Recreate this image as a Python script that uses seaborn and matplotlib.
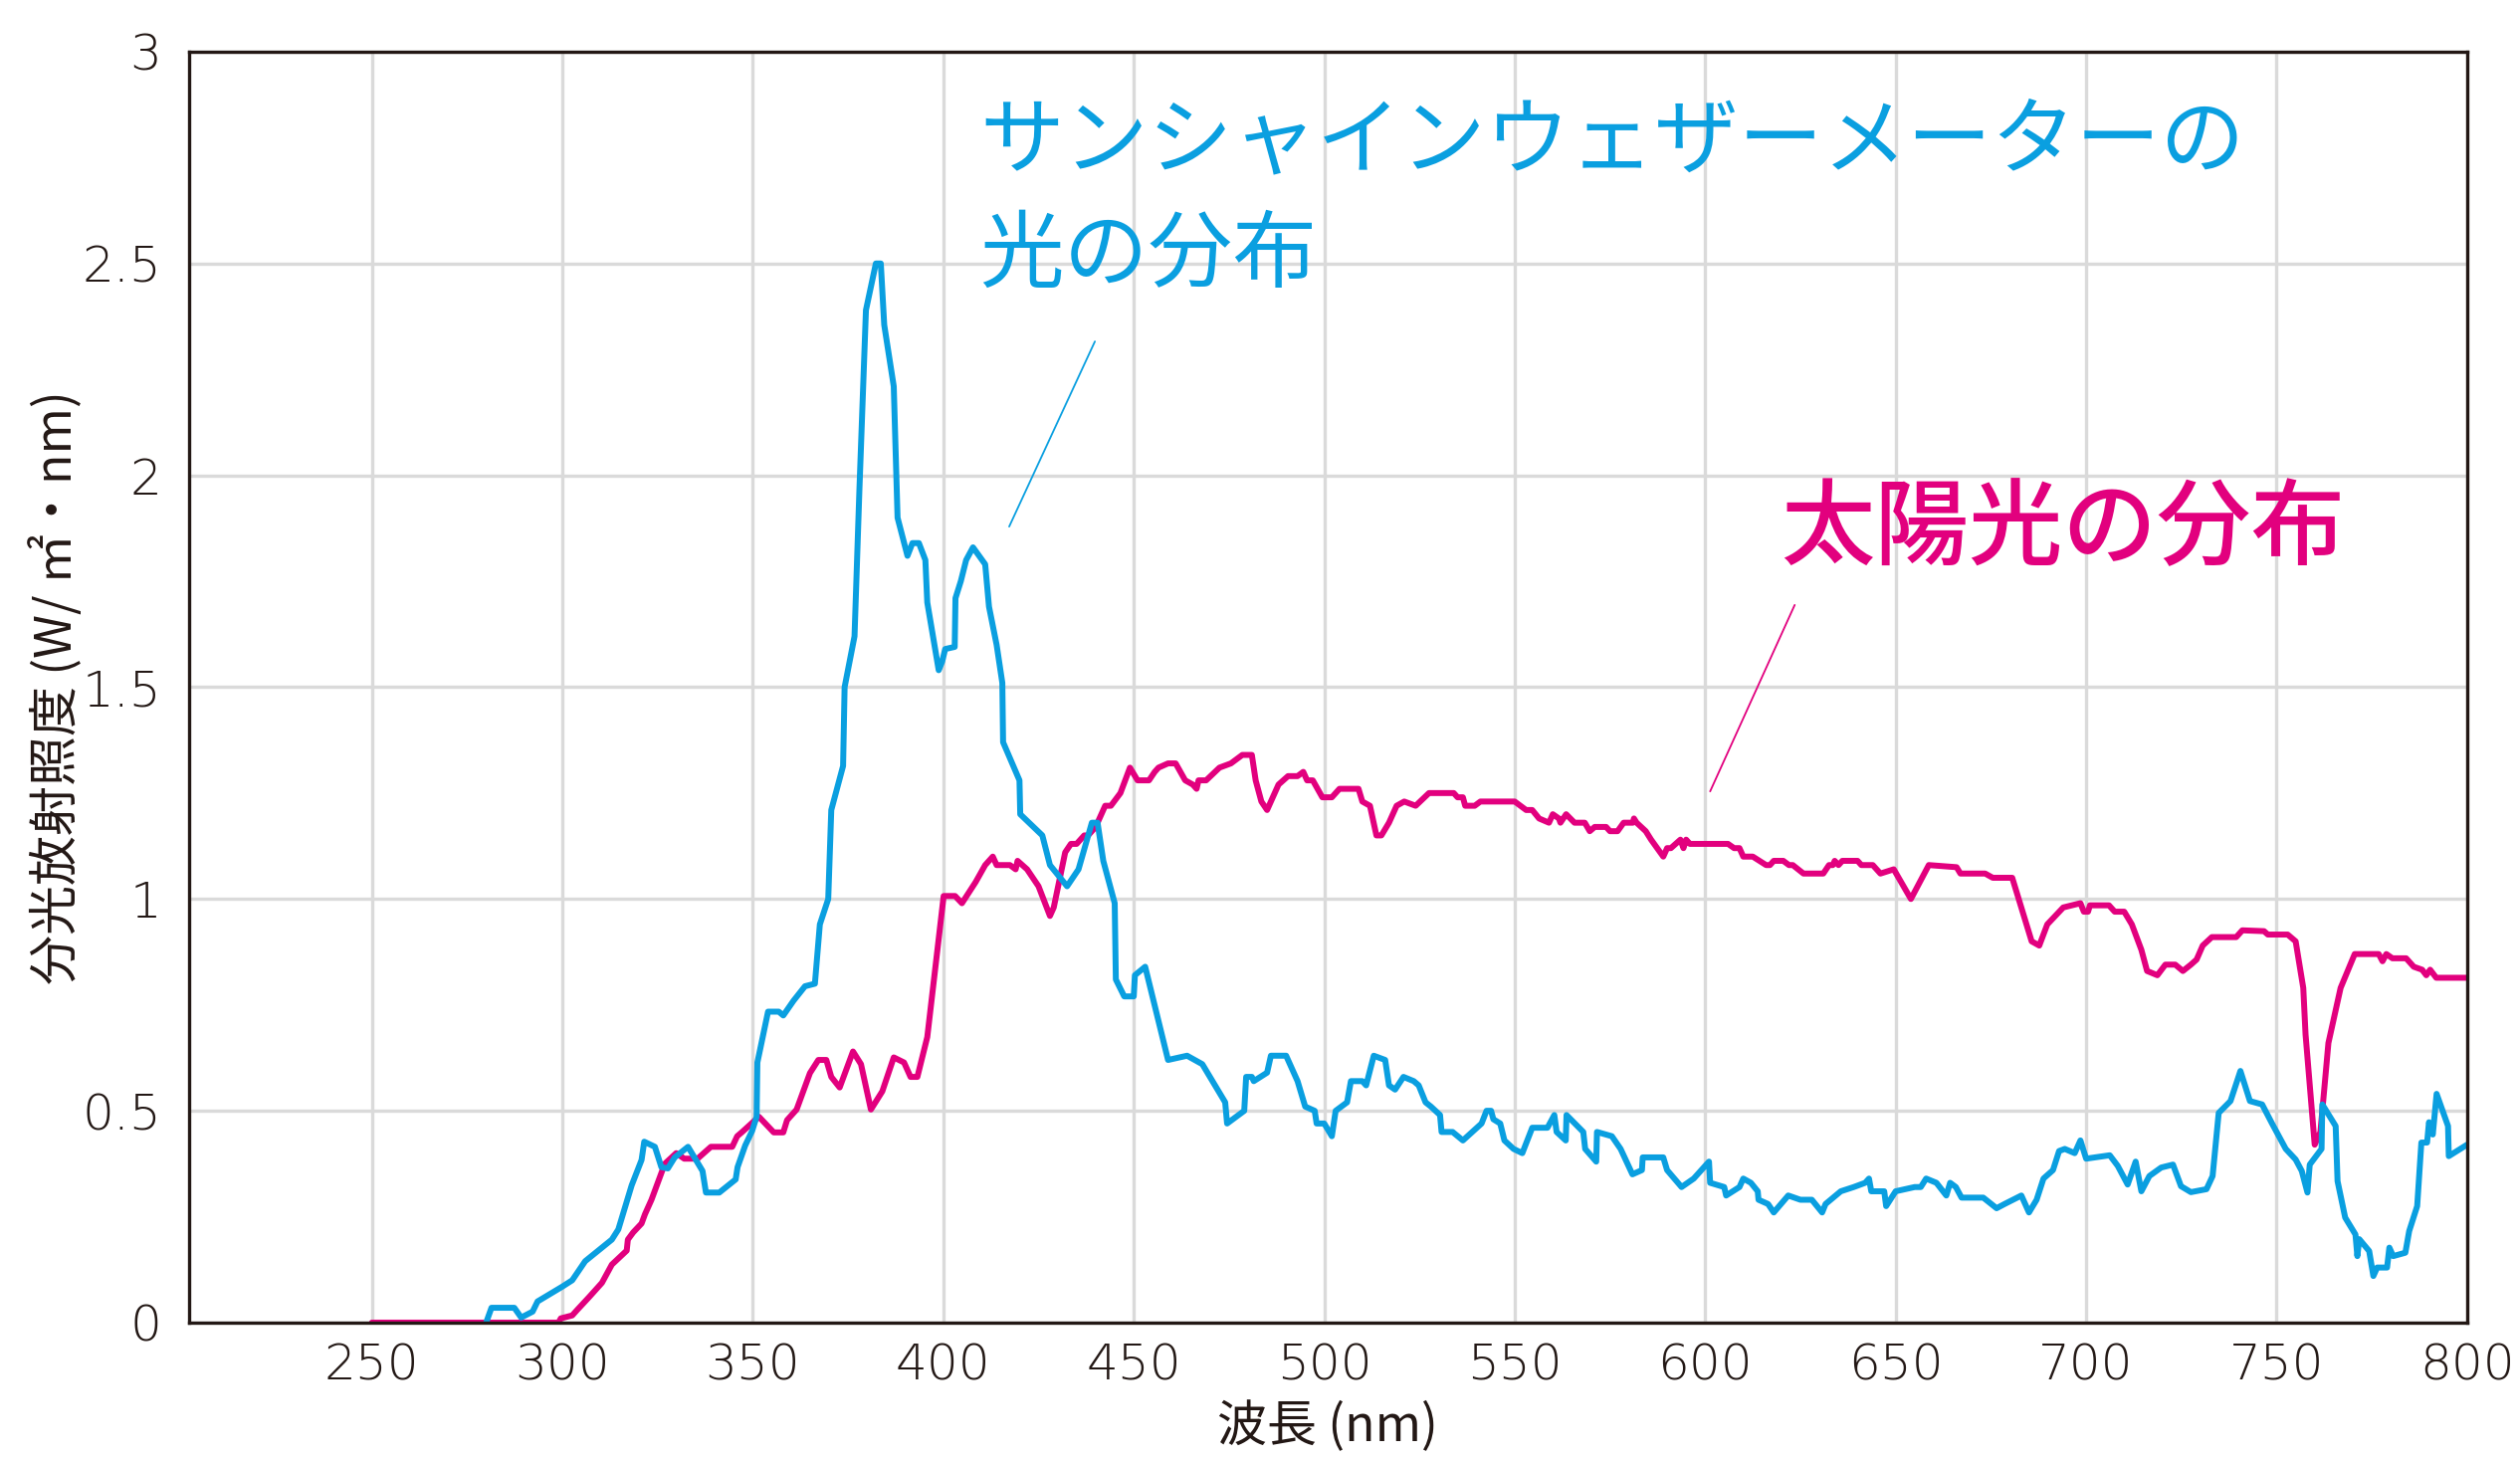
import numpy as np
import pandas as pd
import seaborn as sns
import matplotlib.pyplot as plt

# sunshine weather meter spectrum (blue)
meter_nm = [280, 281.4, 287.4, 289.2, 292.2, 293.5, 300, 302.6, 306, 313, 314.7, 318.2, 320.8, 321.5,
            324.3, 326, 327.7, 329.5, 333, 336.8, 337.7, 341.2, 345.5, 346, 348, 349.8, 351, 351.2,
            354, 356.8, 358, 360.7, 363.7, 366.3, 367.6, 369.8, 370.6, 373.7, 374.1, 376.7, 378,
            379.7, 382.3, 383.6, 384.5, 387, 388, 390.6, 391.9, 393.6, 395.3, 395.8, 398.8, 399.7,
            400.5, 403, 403.2, 404.6, 406, 407.8, 411, 412, 414, 415.5, 415.7, 420, 420.2, 426, 428,
            432.5, 435.5, 439, 440.5, 442, 445, 445.3, 447.5, 450, 450.3, 453, 459, 464, 468, 474,
            474.5, 479, 479.5, 481, 481.5, 485, 486, 490, 493, 495, 497.5, 498, 500, 502, 503, 506,
            507, 510, 511, 513, 516, 517, 518.6, 520.8, 523.5, 524.8, 526.6, 528, 530.4, 530.8,
            533.7, 536.4, 541.3, 542.6, 543.8, 544.4, 546.2, 547.3, 549.7, 552, 554.6, 558.6, 560.4,
            561, 563.4, 563.6, 568, 568.5, 571.4, 571.6, 575.5, 577.8, 580.9, 583.4, 583.6, 589, 590,
            593.8, 597, 601, 601.3, 605, 605.5, 609, 610, 612, 613.8, 614, 616.5, 618, 621.8, 625,
            628, 630.7, 631.6, 635.6, 639, 642, 643, 643.6, 647, 647.5, 650, 655, 656.6, 658, 660.7,
            663.3, 664.3, 665.8, 667.3, 673, 676.5, 678.6, 683, 685, 687, 688.8, 691.3, 692.9, 694.4,
            697, 698.5, 700, 706.2, 708.3, 710.9, 713, 714.5, 716.6, 719.7, 722.8, 724.9, 727.5,
            731.6, 733.2, 734.8, 737.9, 740.5, 743, 746.2, 748.8, 752.4, 755, 756.6, 758.1, 758.7,
            761.8, 762, 765.5, 766, 768, 770.7, 771.2, 771.7, 774.3, 775.4, 776.4, 779, 779.6, 780.6,
            783.8, 784.8, 786.9, 788, 789.5, 790, 791, 792, 795, 795.2, 800]
meter_val = [0, 0.035, 0.035, 0.012, 0.026, 0.05, 0.085, 0.10, 0.145, 0.196, 0.22, 0.324, 0.384, 0.427,
             0.415, 0.367, 0.364, 0.39, 0.415, 0.358, 0.307, 0.307, 0.338, 0.367, 0.418, 0.452, 0.486, 0.614,
             0.734, 0.734, 0.725, 0.76, 0.794, 0.80, 0.94, 1.0, 1.21, 1.314, 1.50, 1.62, 1.97,
             2.39, 2.50, 2.50, 2.355, 2.21, 1.90, 1.81, 1.84, 1.84, 1.80, 1.70, 1.54, 1.56,
             1.59, 1.595, 1.71, 1.75, 1.80, 1.83, 1.79, 1.69, 1.60, 1.51, 1.37, 1.28, 1.20, 1.15, 1.08,
             1.03, 1.07, 1.18, 1.18, 1.09, 0.99, 0.81, 0.77, 0.77, 0.82, 0.84, 0.62, 0.63, 0.61, 0.52,
             0.47, 0.50, 0.58, 0.58, 0.57, 0.59, 0.63, 0.63, 0.57, 0.51, 0.50, 0.47, 0.47, 0.44, 0.50, 0.52,
             0.57, 0.57, 0.56, 0.63, 0.62, 0.56, 0.55, 0.58, 0.57, 0.56, 0.52, 0.51, 0.49, 0.45,
             0.45, 0.43, 0.47, 0.50, 0.50, 0.48, 0.47, 0.43, 0.41, 0.40, 0.46, 0.46, 0.49,
             0.45, 0.43, 0.49, 0.45, 0.41, 0.38, 0.45, 0.44, 0.41, 0.35, 0.36, 0.39, 0.39, 0.36,
             0.32, 0.34, 0.38, 0.33, 0.32, 0.30, 0.32, 0.34, 0.33, 0.31, 0.29, 0.28, 0.26, 0.30, 0.29,
             0.29, 0.26, 0.28, 0.31, 0.32, 0.33, 0.34, 0.31, 0.31, 0.275, 0.31, 0.32, 0.32, 0.34, 0.33,
             0.30, 0.33, 0.32, 0.295, 0.295, 0.27, 0.28, 0.30, 0.26, 0.29, 0.34, 0.36, 0.405, 0.41,
             0.40, 0.43, 0.387, 0.395, 0.37, 0.326, 0.38, 0.31, 0.346, 0.366, 0.373, 0.322, 0.308,
             0.315, 0.346, 0.495, 0.523, 0.594, 0.523, 0.515, 0.47, 0.41, 0.385, 0.358, 0.307, 0.373,
             0.41, 0.515, 0.464, 0.334, 0.248, 0.208, 0.157, 0.197, 0.169, 0.11, 0.13, 0.13, 0.177, 0.157,
             0.165, 0.216, 0.275, 0.425, 0.425, 0.473, 0.444, 0.54, 0.464, 0.393, 0.42]

# sunlight spectrum (magenta)
sun_nm = [250, 299, 299.6, 302.6, 303.9, 307, 310.4, 313, 316.9, 317.2, 318.6, 320.8, 321.7, 323.4,
          326.9, 329.9, 332, 335.5, 339, 344.6, 345.9, 347.2, 351.6, 355.5, 358, 359, 361.5, 365,
          367.2, 369.3, 370.6, 372.8, 376.3, 378.4, 381, 384, 387, 389.7, 391.4, 393.2, 395.8,
          400.1, 403.1, 404.9, 408.5, 411, 413, 414, 417.5, 419, 419.5, 422, 425, 428, 429, 432,
          433.5, 435, 437, 438, 440, 442.5, 444, 446.5, 449, 451, 454, 455.5, 456.5, 459, 461,
          463.5, 465.5, 466.5, 467, 469, 472.5, 475.5, 478.5, 481, 482, 483.5, 485, 488, 490.5,
          493, 494.5, 495.5, 497, 499.5, 502, 504, 509, 510, 512, 513.7, 515, 517, 519, 521, 524,
          527.5, 534, 535, 536.4, 537, 539.5, 541, 550, 551.5, 553, 554.6, 556.4, 559, 560, 561.6,
          562, 563.5, 565.7, 568.4, 569.7, 571, 574, 575, 577, 578.6, 581, 581.3, 582, 584.4, 585.8,
          589, 590, 591, 593.5, 594.3, 595, 596, 606, 607.6, 609, 610, 612.5, 616, 617, 618, 620.5,
          622, 623, 625.8, 631, 632.5, 633.5, 634, 635, 636, 640, 641, 644, 646, 649.5, 654, 658.7,
          666, 667, 673.5, 675.5, 680.6, 685.7, 687.7, 689.8, 694, 698.5, 699.4, 700.5, 701, 706,
          707.5, 710, 712, 714.5, 716, 718.7, 720.8, 723.4, 725.4, 727.5, 729, 730.6, 733, 739.4,
          741, 746.7, 747.7, 752.9, 755, 757, 757.6, 760, 761.5, 763.6, 766.8, 770.5, 776.8, 777.8,
          778.8, 780.4, 784, 786, 788.2, 789.3, 790.3, 791.9, 800]
sun_val = [0, 0, 0.01, 0.017, 0.03, 0.06, 0.094, 0.137, 0.17, 0.196, 0.213, 0.234, 0.256, 0.29,
           0.375, 0.40, 0.387, 0.387, 0.415, 0.415, 0.44, 0.45, 0.486, 0.449, 0.449, 0.478, 0.503, 0.589,
           0.62, 0.62, 0.58, 0.555, 0.64, 0.61, 0.503, 0.546, 0.626, 0.614, 0.58, 0.58, 0.674,
           1.007, 1.007, 0.99, 1.04, 1.08, 1.10, 1.08, 1.08, 1.07, 1.09, 1.07, 1.03, 0.96, 0.98, 1.11,
           1.13, 1.13, 1.15, 1.15, 1.17, 1.22, 1.22, 1.25, 1.31, 1.28, 1.28, 1.30, 1.31, 1.32, 1.32,
           1.28, 1.27, 1.26, 1.28, 1.28, 1.31, 1.32, 1.34, 1.34, 1.28, 1.23, 1.21, 1.27, 1.29,
           1.29, 1.30, 1.28, 1.28, 1.24, 1.24, 1.26, 1.26, 1.23, 1.22, 1.15, 1.15, 1.18, 1.22, 1.23, 1.22,
           1.25, 1.25, 1.24, 1.24, 1.22, 1.22, 1.23, 1.23, 1.22, 1.21, 1.21, 1.19, 1.18, 1.20, 1.19,
           1.18, 1.20, 1.18, 1.18, 1.16, 1.17, 1.17, 1.16, 1.16, 1.18, 1.18, 1.19, 1.18, 1.16, 1.14,
           1.10, 1.12, 1.12, 1.14, 1.12, 1.14, 1.13, 1.13, 1.12, 1.12, 1.10, 1.10, 1.08, 1.08, 1.09, 1.09,
           1.08, 1.08, 1.06, 1.06, 1.08, 1.08, 1.09, 1.08, 1.09, 1.09, 1.08, 1.08, 1.06, 1.07, 1.0, 1.08,
           1.075, 1.06, 1.06, 1.05, 1.05, 0.90, 0.89, 0.94, 0.98, 0.99, 0.97, 0.97, 0.985, 0.985,
           0.97, 0.97, 0.94, 0.88, 0.83, 0.82, 0.845, 0.845, 0.83, 0.845, 0.857, 0.89, 0.91, 0.91,
           0.926, 0.924, 0.916, 0.916, 0.90, 0.79, 0.68, 0.42, 0.45, 0.66, 0.79, 0.87, 0.87, 0.853,
           0.87, 0.86, 0.86, 0.84, 0.833, 0.82, 0.833, 0.814, 0.814]

x_ticks = [250, 300, 350, 400, 450, 500, 550, 600, 650, 700, 750, 800]
y_ticks = [0, 0.5, 1, 1.5, 2, 2.5, 3]
y_tick_labels = ['0', '0.5', '1', '1.5', '2', '2.5', '3']

blue = '#0a9fe0'
pink = '#e2007e'
ink = '#231815'

meter = pd.DataFrame({'nm': meter_nm, 'val': meter_val})
sun = pd.DataFrame({'nm': sun_nm, 'val': sun_val})

sns.set_style('white')
plt.rcParams['font.family'] = ['Noto Sans CJK JP', 'DejaVu Sans']

fig = plt.figure(figsize=(25.32, 14.67), dpi=100)
ax = fig.add_axes([0.075, 0.0941, 0.904, 0.8705])

sns.lineplot(data=sun, x='nm', y='val', color=pink, lw=4.3, estimator=None, ax=ax)
sns.lineplot(data=meter, x='nm', y='val', color=blue, lw=4.3, estimator=None, ax=ax)

ax.set_xlim(202, 800)
ax.set_ylim(0, 3)
ax.set_xticks(x_ticks)
ax.set_yticks(y_ticks)
ax.set_yticklabels(y_tick_labels)
ax.set_axisbelow(True)
ax.grid(True, color='#dadada', lw=2.4)
ax.tick_params(length=0, labelsize=36, colors=ink)
ax.tick_params(axis='y', pad=20)
ax.tick_params(axis='x', pad=14)
for lab in ax.get_xticklabels() + ax.get_yticklabels():
    lab.set_family('DejaVu Sans')
    lab.set_fontweight('light')
for s in ax.spines.values():
    s.set_color(ink)
    s.set_linewidth(2.4)

ax.set_xlabel('波長 (nm)', fontsize=36, color=ink, va='center')
ax.xaxis.set_label_coords(0.5, -0.082)
ax.set_ylabel('分光放射照度 (W/ ㎡・nm)', fontsize=36, color=ink, va='center')
ax.yaxis.set_label_coords(-0.058, 0.5)

# annotations
ax.text(409.5, 2.786, 'サンシャインウェザーメーターの', color=blue, fontsize=61,
        ha='left', va='center')
ax.text(409.5, 2.516, '光の分布', color=blue, fontsize=61, ha='left', va='center')
ax.plot([439.8, 417.3], [2.316, 1.879], color=blue, lw=1.3)

ax.text(619.8, 1.87, '太陽光の分布', color=pink, fontsize=68, ha='left', va='center',
        fontweight='medium')
ax.plot([623.5, 601.3], [1.694, 1.254], color=pink, lw=1.3)

plt.savefig('out.png', dpi=100)
